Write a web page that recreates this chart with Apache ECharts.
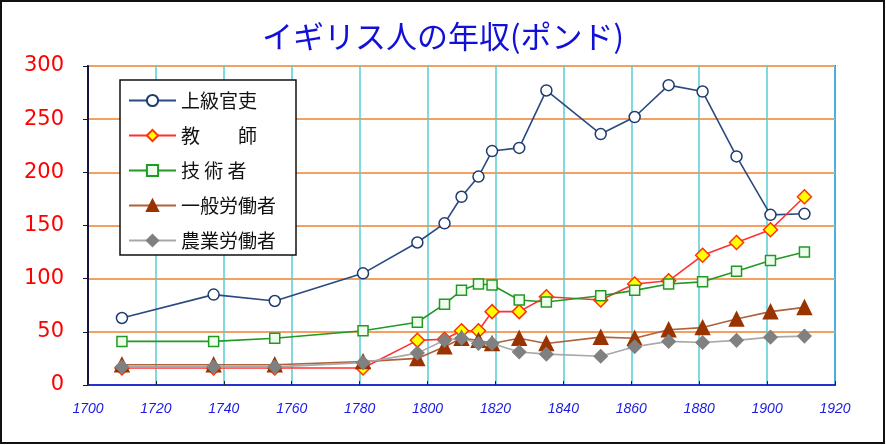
<!DOCTYPE html>
<html>
<head>
<meta charset="utf-8">
<script src="https://cdn.jsdelivr.net/npm/echarts@6/dist/echarts.min.js"></script>
<style>
html,body{margin:0;padding:0;background:#fff;}
#c{width:886px;height:445px;}
</style>
</head>
<body>
<div id="c"></div>
<script>
// ---- data ----
const years = [1710, 1737, 1755, 1781, 1797, 1805, 1810, 1815, 1819, 1827, 1835, 1851, 1861, 1871, 1881, 1891, 1901, 1911];
const seriesNames = ['上級官吏', '教　　師', '技 術 者', '一般労働者', '農業労働者'];
const officials  = [63, 85, 79, 105, 134, 152, 177, 196, 220, 223, 277, 236, 252, 282, 276, 215, 160, 161];
const teachers   = [16, 16, 16, 16, 42, 43, 51, 51, 69, 69, 83, 80, 95, 98, 122, 134, 146, 177];
const engineers  = [41, 41, 44, 51, 59, 76, 89, 95, 94, 80, 78, 84, 89, 95, 97, 107, 117, 125];
const laborers   = [19, 19, 19, 22, 25, 36, 44, 42, 39, 44, 39, 45, 44, 52, 54, 62, 69, 73];
const farmers    = [17, 17, 17, 21, 30, 42, 44, 39, 39, 31, 29, 27, 36, 41, 40, 42, 45, 46];
const yTicks = [0, 50, 100, 150, 200, 250, 300];
const xTicks = [1700, 1720, 1740, 1760, 1780, 1800, 1820, 1840, 1860, 1880, 1900, 1920];
const titleText = 'イギリス人の年収(ポンド)';

function pairs(vals){ return years.map((y,i)=>[y, vals[i]]); }

const chart = echarts.init(document.getElementById('c'), null, {renderer:'canvas'});
const styles = [
  {data: officials, symbol:'circle', size:11, fill:'#ffffff', border:'#1F3C6E', line:'#2A4A80'},
  {data: teachers,  symbol:'diamond', size:14, fill:'#FFFF00', border:'#FF3300', line:'#FF3030'},
  {data: engineers, symbol:'rect', size:10, fill:'#EEFFEE', border:'#229922', line:'#229922'},
  {data: laborers,  symbol:'triangle', size:14, fill:'#993300', border:'#993300', line:'#B0603A'},
  {data: farmers,   symbol:'diamond', size:13, fill:'#808080', border:'#808080', line:'#A8A8A8'}
];

chart.setOption({
  backgroundColor:'#ffffff',
  animation:false,
  title:{
    text:titleText, left:'center', top:16,
    textStyle:{color:'#1010D8', fontSize:31, fontWeight:'normal', fontFamily:'"Noto Sans CJK JP", sans-serif'}
  },
  grid:{left:88, right:51, top:66, bottom:60, show:true, borderColor:'#3355FF', borderWidth:2, backgroundColor:'#ffffff'},
  legend:{
    orient:'vertical', left:120, top:80,
    padding:[11,20,5,8], itemWidth:47, itemHeight:14, itemGap:16,
    backgroundColor:'#ffffff', borderColor:'#111111', borderWidth:1.5,
    textStyle:{color:'#111', fontSize:19, fontFamily:'"Noto Sans CJK JP", sans-serif'},
    data:seriesNames
  },
  xAxis:{
    type:'value', min:xTicks[0], max:xTicks[xTicks.length-1], interval:20,
    axisLine:{show:true, lineStyle:{color:'#2233CC', width:2}},
    axisTick:{show:true, inside:true, length:4, lineStyle:{color:'#222'}},
    splitLine:{show:true, lineStyle:{color:'#55CCD4', width:1.5}},
    axisLabel:{color:'#1A1AE0', fontSize:14, fontStyle:'italic', margin:17, fontFamily:'"Liberation Sans Narrow", "Liberation Sans", Arial, sans-serif',
      formatter: v => xTicks.includes(v) ? String(v) : ''}
  },
  yAxis:{
    type:'value', min:yTicks[0], max:yTicks[yTicks.length-1], interval:50,
    axisLine:{show:true, lineStyle:{color:'#14143C', width:2}},
    axisTick:{show:true, inside:false, length:5, lineStyle:{color:'#14143C'}},
    splitLine:{show:true, lineStyle:{color:'#F4A060', width:2}},
    axisLabel:{color:'#FF0000', fontSize:21, margin:24, fontFamily:'"DejaVu Sans", sans-serif',
      formatter: v => yTicks.includes(v) ? String(v) : ''}
  },
  graphic:[{type:'rect', shape:{x:1, y:1, width:883, height:442}, style:{fill:null, stroke:'#111', lineWidth:2}, z:100, silent:true}],
  series: styles.map((s,i)=>({
    name:seriesNames[i], type:'line', data:pairs(s.data),
    symbol:s.symbol, symbolSize:s.size, showAllSymbol:true,
    lineStyle:{color:s.line, width:1.6},
    itemStyle:{color:s.fill, borderColor:s.border, borderWidth:1.5},
    z:2+i
  }))
});
</script>
</body>
</html>
